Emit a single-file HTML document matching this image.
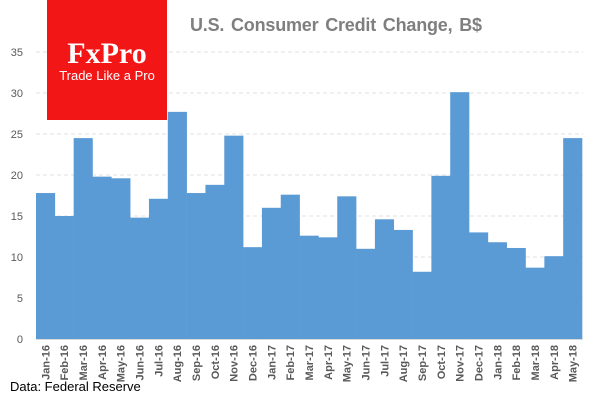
<!DOCTYPE html>
<html><head><style>
body{margin:0;background:#fff;}
svg{display:block;font-family:"Liberation Sans",sans-serif;}
</style></head><body>
<svg width="600" height="400" xmlns="http://www.w3.org/2000/svg">
<g stroke="#e0e0e0" stroke-dasharray="4,3">
<line x1="36" x2="583" y1="52" y2="52"/><line x1="36" x2="583" y1="93" y2="93"/>
<line x1="36" x2="583" y1="134" y2="134"/><line x1="36" x2="583" y1="175" y2="175"/>
<line x1="36" x2="583" y1="216" y2="216"/><line x1="36" x2="583" y1="257" y2="257"/>
<line x1="36" x2="583" y1="298" y2="298"/>
</g>
<g fill="#595959" font-size="11" text-anchor="end">
<text x="23" y="56">35</text><text x="23" y="97">30</text><text x="23" y="138">25</text>
<text x="23" y="179">20</text><text x="23" y="220">15</text><text x="23" y="261">10</text>
<text x="23" y="302">5</text><text x="23" y="343">0</text>
</g>
<g id="bars" fill="#5b9bd5"></g>
<line x1="36" x2="583" y1="339.5" y2="339.5" stroke="#d9d9d9"/>
<g id="xl" fill="#595959" font-size="11" font-weight="bold"></g>
<rect x="47" y="0" width="120" height="120" fill="#f21616"/>
<text x="107" y="63" text-anchor="middle" fill="#fff" font-family="Liberation Serif,serif" font-size="30" font-weight="bold">FxPro</text>
<text x="107" y="80" text-anchor="middle" fill="#fff" font-size="13">Trade Like a Pro</text>
<text x="190" y="31" fill="#7f7f7f" font-size="18" font-weight="bold" word-spacing="2" textLength="292">U.S. Consumer Credit Change, B$</text>
<text x="10" y="391" fill="#000" font-size="13">Data: Federal Reserve</text>
</svg>
<script>
var v=[17.8,15.0,24.5,19.8,19.6,14.8,17.1,27.7,17.8,18.8,24.8,11.2,16.0,17.6,12.6,12.4,17.4,11.0,14.6,13.3,8.2,19.9,30.1,13.0,11.8,11.1,8.7,10.1,24.5];
var m=["Jan","Feb","Mar","Apr","May","Jun","Jul","Aug","Sep","Oct","Nov","Dec"];
var ns="http://www.w3.org/2000/svg",b=document.getElementById("bars"),xl=document.getElementById("xl");
var w=(582-36)/29;
v.forEach(function(d,i){
 var r=document.createElementNS(ns,"rect");var x=36+i*w;
 r.setAttribute("x",x);r.setAttribute("width",w+0.3);r.setAttribute("y",339-d*8.2);r.setAttribute("height",d*8.2);
 b.appendChild(r);
 var t=document.createElementNS(ns,"text");var cx=x+w/2+4;
 t.setAttribute("transform","translate("+cx+",345) rotate(-90)");t.setAttribute("text-anchor","end");
 t.textContent=m[i%12]+"-"+(16+Math.floor(i/12));xl.appendChild(t);
});
</script>
</body></html>
